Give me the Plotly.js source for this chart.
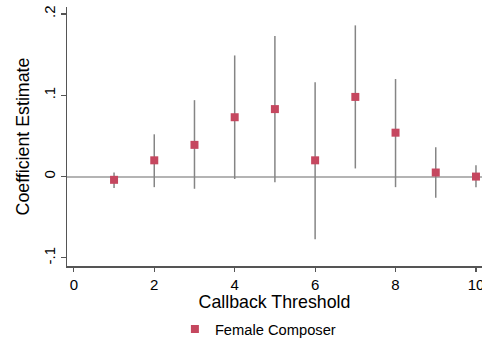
<!DOCTYPE html>
<html>
<head>
<meta charset="utf-8">
<script src="https://cdn.plot.ly/plotly-3.0.1.min.js"></script>
<style>html,body{margin:0;padding:0;background:#fff;}#chart{width:482px;height:339px;}</style>
</head>
<body>
<div id="chart"></div>
<script>
// Data
var thresholds = [1, 2, 3, 4, 5, 6, 7, 8, 9, 10];
var estimate   = [-0.004, 0.020, 0.039, 0.073, 0.083, 0.020, 0.098, 0.054, 0.005, 0.000];
var ciLow      = [-0.014, -0.013, -0.015, -0.003, -0.007, -0.077, 0.010, -0.013, -0.026, -0.013];
var ciHigh     = [0.005, 0.052, 0.094, 0.149, 0.173, 0.116, 0.186, 0.120, 0.036, 0.014];
var yTickVals  = [-0.1, 0, 0.1, 0.2];
var yTickText  = ['-.1', '0', '.1', '.2'];
var xTickVals  = [0, 2, 4, 6, 8, 10];
var seriesName = 'Female Composer';

var plus = estimate.map(function(v, i){ return ciHigh[i] - v; });
var minus = estimate.map(function(v, i){ return v - ciLow[i]; });

var trace = {
  x: thresholds,
  y: estimate,
  type: 'scatter',
  mode: 'markers',
  name: seriesName,
  marker: {symbol: 'square', size: 8, color: '#c5475f'},
  error_y: {type: 'data', symmetric: false, array: plus, arrayminus: minus,
            color: '#858585', thickness: 1.5, width: 0},
  showlegend: true
};

var font = 'Liberation Sans, Arial, sans-serif';
var layout = {
  width: 482, height: 339,
  margin: {l: 67, r: 0, t: 7, b: 73, pad: 0, autoexpand: false},
  paper_bgcolor: '#fff', plot_bgcolor: '#fff',
  font: {family: font, color: '#000', size: 15},
  showlegend: true,
  legend: {orientation: 'h', x: 0.46, xanchor: 'center', y: -0.245, yanchor: 'middle',
           font: {family: font, size: 14.7, color: '#000'}, bgcolor: 'rgba(0,0,0,0)'},
  xaxis: {
    range: [-0.17, 10.15], tickvals: xTickVals, ticks: 'outside', ticklen: 4,
    tickcolor: '#555', tickwidth: 1.2, showline: true, linecolor: '#555', linewidth: 1.5,
    showgrid: false, zeroline: false, automargin: false, ticklabeloverflow: 'allow',
    tickfont: {size: 15, family: font, color: '#000'},
    title: {text: 'Callback Threshold', font: {size: 17.8, family: font, color: '#000'}, standoff: 0}
  },
  yaxis: {
    range: [-0.11, 0.2086], tickvals: yTickVals, ticktext: yTickText, ticks: 'outside',
    ticklen: 5, tickcolor: '#555', tickwidth: 1.2, tickangle: -90, ticklabeloverflow: 'allow',
    showline: true, linecolor: '#555', linewidth: 1.5, showgrid: false,
    zeroline: true, zerolinecolor: '#b4b4b4', zerolinewidth: 2, automargin: false,
    tickfont: {size: 15, family: font, color: '#000'},
    title: {text: 'Coefficient Estimate', font: {size: 17.8, family: font, color: '#000'}, standoff: 6}
  }
};

Plotly.newPlot('chart', [trace], layout, {displayModeBar: false, staticPlot: true});
</script>
</body>
</html>
